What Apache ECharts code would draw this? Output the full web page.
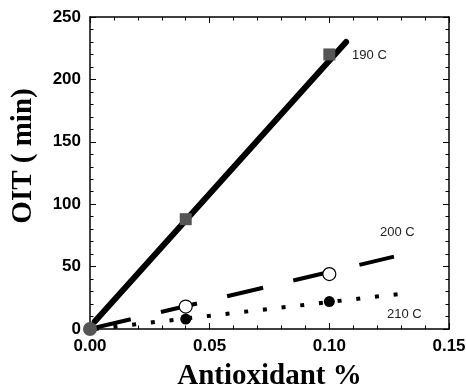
<!DOCTYPE html>
<html>
<head>
<meta charset="utf-8">
<style>html,body{margin:0;padding:0;background:#fff}#c{width:466px;height:390px}</style>
<script src="https://cdn.jsdelivr.net/npm/echarts@6/dist/echarts.min.js"></script>
</head>
<body>
<div id="c"></div>
<script>
// Measured OIT values (min) vs antioxidant content (%)
const pts190 = [[0.04, 88], [0.10, 220]];
const pts200 = [[0.04, 18], [0.10, 44]];
const pts210 = [[0.04, 8], [0.10, 22]];
const origin = [[0, 0]];

// Linear fit lines, given by their end points
const fit190 = [[0.002, 6], [0.107, 230]];
const fit200 = [[0.002, 1], [0.127, 58]];
const fit210 = [[0.002, 0], [0.129, 28]];

const xTicks = ['0.00', '0.05', '0.10', '0.15'];
const yTicks = ['0', '50', '100', '150', '200', '250'];

const tickFont = { fontFamily: 'Liberation Sans, Arial, sans-serif', fontWeight: 'bold', fontSize: 17, color: '#000' };
const titleFont = { fontFamily: 'Liberation Serif, Times New Roman, serif', fontWeight: 'bold', fontSize: 29, color: '#000' };

function baseX(pos, showLabels) {
  return {
    type: 'value', position: pos, min: 0, max: 0.15, interval: 0.05,
    axisLine: { show: true, onZero: false, lineStyle: { color: '#000', width: 1.5 } },
    axisTick: { show: true, inside: true, length: 6, lineStyle: { color: '#000', width: 1 } },
    minorTick: { show: true, splitNumber: 5, length: 3.5, lineStyle: { color: '#000', width: 1 } },
    splitLine: { show: false },
    axisLabel: showLabels ? Object.assign({ margin: 9, formatter: v => xTicks[Math.round(v / 0.05)] }, tickFont) : { show: false }
  };
}
function baseY(pos, showLabels) {
  return {
    type: 'value', position: pos, min: 0, max: 250, interval: 50,
    axisLine: { show: true, onZero: false, lineStyle: { color: '#000', width: 1.5 } },
    axisTick: { show: true, inside: true, length: 6, lineStyle: { color: '#000', width: 1 } },
    minorTick: { show: true, splitNumber: 5, length: 3.5, lineStyle: { color: '#000', width: 1 } },
    splitLine: { show: false },
    axisLabel: showLabels ? Object.assign({ margin: 9, formatter: v => yTicks[Math.round(v / 50)] }, tickFont) : { show: false }
  };
}

const chart = echarts.init(document.getElementById('c'), null, { renderer: 'canvas' });
const xMain = baseX('bottom', true);
xMain.name = 'Antioxidant %';
xMain.nameLocation = 'middle';
xMain.nameGap = 33;
xMain.nameTextStyle = titleFont;
const yMain = baseY('left', true);
yMain.name = 'OIT ( min)';
yMain.nameLocation = 'middle';
yMain.nameGap = 52;
yMain.nameTextStyle = Object.assign({ padding: [0, 0, 0, 34] }, titleFont);

const labelFont = { fontFamily: 'Liberation Sans, Arial, sans-serif', fontSize: 13, color: '#222' };

chart.setOption({
  animation: false,
  grid: { left: 90, right: 17, top: 17, bottom: 61, containLabel: false, outerBoundsMode: 'none' },
  xAxis: [xMain, baseX('top', false)],
  yAxis: [yMain, baseY('right', false)],
  series: [
    { type: 'line', data: fit190, showSymbol: false, z: 2,
      lineStyle: { color: '#000', width: 6, cap: 'round' },
      endLabel: { show: true, formatter: '190 C', offset: [-2, 13], ...labelFont } },
    { type: 'line', data: fit200, showSymbol: false, z: 2,
      lineStyle: { color: '#000', width: 4, type: [37, 31] } },
    { type: 'line', data: fit210, showSymbol: false, z: 2,
      lineStyle: { color: '#000', width: 4, type: [4, 14.8] } },
    { type: 'scatter', data: pts190, symbol: 'rect', symbolSize: 12, z: 3,
      itemStyle: { color: '#555', opacity: 1 } },
    { type: 'scatter', data: pts200, symbol: 'circle', symbolSize: 13, z: 3,
      itemStyle: { color: '#fff', borderColor: '#000', borderWidth: 1.2, opacity: 1 } },
    { type: 'scatter', data: pts210, symbol: 'circle', symbolSize: 11, z: 3,
      itemStyle: { color: '#000', opacity: 1 } },
    { type: 'scatter', data: origin, symbol: 'circle', symbolSize: 14, z: 4,
      itemStyle: { color: '#555', opacity: 1 } }
  ],
  graphic: [
    { type: 'text', left: 380, top: 226, style: { text: '200 C', font: '13px "Liberation Sans", Arial, sans-serif', fill: '#222' } },
    { type: 'text', left: 387, top: 308, style: { text: '210 C', font: '13px "Liberation Sans", Arial, sans-serif', fill: '#222' } }
  ]
});
</script>
</body>
</html>
